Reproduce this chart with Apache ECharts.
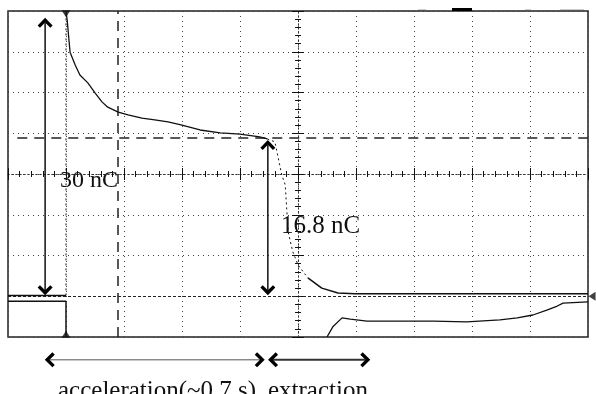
<!DOCTYPE html>
<html>
<head>
<meta charset="utf-8">
<script src="https://cdn.jsdelivr.net/npm/echarts@6/dist/echarts.min.js"></script>
<style>
  html, body { margin: 0; padding: 0; background: #fff; }
  #chart { width: 596px; height: 394px; }
</style>
</head>
<body>
<div id="chart"></div>
<script>
// scope screen: x and y in divisions measured from the centre of the screen
const upperLeft = [[-5.0, -2.98], [-4.0, -2.98]];
const upperRise = [[-4.0, -2.98], [-4.0, 4.0]];
const upperDecay = [
  [-4.0, 4.0], [-3.98, 3.78], [-3.93, 2.99], [-3.84, 2.67], [-3.76, 2.43], [-3.62, 2.23],
  [-3.50, 1.99], [-3.38, 1.77], [-3.28, 1.64], [-3.10, 1.52], [-2.93, 1.45], [-2.69, 1.37],
  [-2.47, 1.33], [-2.24, 1.28], [-2.0, 1.20], [-1.69, 1.08], [-1.34, 1.01], [-1.0, 0.98],
  [-0.66, 0.91], [-0.53, 0.86]
];
const upperFall = [
  [-0.53, 0.86], [-0.40, 0.79], [-0.34, 0.39], [-0.28, -0.02], [-0.22, -0.27],
  [-0.17, -1.42], [-0.09, -1.91], [0.0, -2.23], [0.17, -2.55]
];
const upperTail = [[0.17, -2.55], [0.41, -2.80], [0.69, -2.92], [0.98, -2.94], [5.0, -2.94]];
const lowerLeft = [[-5.0, -3.12], [-4.0, -3.12], [-4.0, -4.0]];
const lowerRecover = [
  [0.50, -4.0], [0.60, -3.75], [0.76, -3.53], [0.90, -3.56], [1.19, -3.61], [1.76, -3.61],
  [2.33, -3.61], [2.91, -3.63], [3.48, -3.58], [3.78, -3.53], [4.05, -3.46], [4.29, -3.34],
  [4.47, -3.24], [4.57, -3.17], [5.0, -3.14]
];

// cursors
const cursorX = -3.10;
const cursorY = 0.88;
const groundY = -3.0;

const chargeLabels = ['30 nC', '16.8 nC'];
const phaseLabels = ['acceleration(~0.7 s)', 'extraction'];

const ink = '#111';
const serif = '"Liberation Serif", "DejaVu Serif", serif';
// bold open arrow head, pointing up
const chevron = 'path://M0,7L7,0L14,7L11.8,9.2L7,4.4L2.2,9.2Z';

function trace(data, type, width) {
  return {
    type: 'line', data, symbol: 'none', silent: true, animation: false, z: 5,
    lineStyle: { color: ink, width, type }
  };
}

function arrow(a, b, rotA, rotB, width, color) {
  return {
    type: 'line', clip: false, silent: true, animation: false, z: 6,
    symbol: chevron, symbolSize: [15, 10], showSymbol: true, showAllSymbol: true,
    lineStyle: { color: color || ink, width },
    itemStyle: { color: '#000', borderWidth: 0 },
    data: [{ value: a, symbolRotate: rotA }, { value: b, symbolRotate: rotB }]
  };
}

const centreAxis = (extra) => Object.assign({
  type: 'value',
  axisLabel: { show: false },
  axisLine: { show: true, onZero: true, onZeroAxisIndex: 0, lineStyle: { color: '#333', width: 1, type: [1, 3] } },
  axisTick: { show: true, inside: false, length: 6, lineStyle: { color: ink, width: 1 } },
  minorTick: { show: true, splitNumber: 5, length: 3, lineStyle: { color: ink, width: 1 } }
}, extra);

const chart = echarts.init(document.getElementById('chart'));

chart.setOption({
  animation: false,
  backgroundColor: '#fff',
  grid: { left: 8, right: 8, top: 11, bottom: 57, show: true, borderColor: '#222', borderWidth: 1.5 },
  xAxis: [
    centreAxis({ min: -5, max: 5, interval: 1, position: 'bottom',
      splitLine: { show: true, lineStyle: { color: '#444', width: 1, type: [1, 4] } } }),
    centreAxis({ min: -5, max: 5, interval: 1, position: 'top', splitLine: { show: false } })
  ],
  yAxis: [
    centreAxis({ min: -4, max: 4, interval: 1, position: 'left',
      splitLine: { show: true, lineStyle: { color: '#444', width: 1, type: [1, 4] } } }),
    centreAxis({ min: -4, max: 4, interval: 1, position: 'right', splitLine: { show: false } })
  ],
  series: [
    {
      type: 'line', data: [], silent: true, symbol: 'none',
      markLine: {
        silent: true, symbol: 'none', animation: false,
        label: { show: false },
        data: [
          [{ coord: [cursorX, -4], lineStyle: { color: '#222', width: 1.5, type: [10, 7] } }, { coord: [cursorX, 4] }],
          [{ coord: [-4.84, cursorY], lineStyle: { color: '#222', width: 1.5, type: [10, 7] } }, { coord: [5, cursorY] }],
          [{ coord: [-5, groundY], lineStyle: { color: '#222', width: 1.2, type: [3, 2] } }, { coord: [5, groundY] }]
        ]
      }
    },
    trace(upperLeft, 'solid', 1.5),
    trace(upperRise, [2, 3], 1),
    trace(upperDecay, 'solid', 1.3),
    trace(upperFall, [2, 3], 1),
    trace(upperTail, 'solid', 1.5),
    trace(lowerLeft, 'solid', 1.5),
    trace(lowerRecover, 'solid', 1.3),
    {
      type: 'scatter', clip: false, silent: true, animation: false, z: 7,
      symbol: 'triangle', symbolSize: [9, 7],
      itemStyle: { color: ink },
      data: [
        { value: [-4.0, 3.93], symbolRotate: 180 },
        { value: [-4.0, -3.93] },
        { value: [5.07, -3.0], symbolRotate: 90 }
      ]
    },
    arrow([-4.36, 3.71], [-4.36, -2.85], 0, 180, 1.5),
    arrow([-0.52, 0.71], [-0.52, -2.85], 0, 180, 1.5),
    arrow([-4.28, -4.56], [-0.66, -4.56], 90, -90, 1, '#555'),
    arrow([-0.43, -4.56], [1.16, -4.56], 90, -90, 2, '#333')
  ],
  graphic: [
    { type: 'text', left: 60, top: 168.5, style: { text: chargeLabels[0], font: '24px ' + serif, fill: ink, verticalAlign: 'middle' } },
    { type: 'text', left: 281, top: 213.5, style: { text: chargeLabels[1], font: '25px ' + serif, fill: ink, verticalAlign: 'middle' } },
    { type: 'text', left: 58, top: 379, style: { text: phaseLabels[0], font: '25px ' + serif, fill: ink, verticalAlign: 'middle' } },
    { type: 'text', left: 268, top: 379, style: { text: phaseLabels[1], font: '25px ' + serif, fill: ink, verticalAlign: 'middle' } },
    { type: 'rect', shape: { x: 452, y: 8, width: 20, height: 3 }, style: { fill: '#000' } },
    { type: 'rect', shape: { x: 418, y: 9, width: 8, height: 1 }, style: { fill: '#ccc' } },
    { type: 'rect', shape: { x: 525, y: 9, width: 6, height: 1 }, style: { fill: '#ccc' } },
    { type: 'rect', shape: { x: 560, y: 9, width: 24, height: 1 }, style: { fill: '#ccc' } }
  ]
});
</script>
</body>
</html>
